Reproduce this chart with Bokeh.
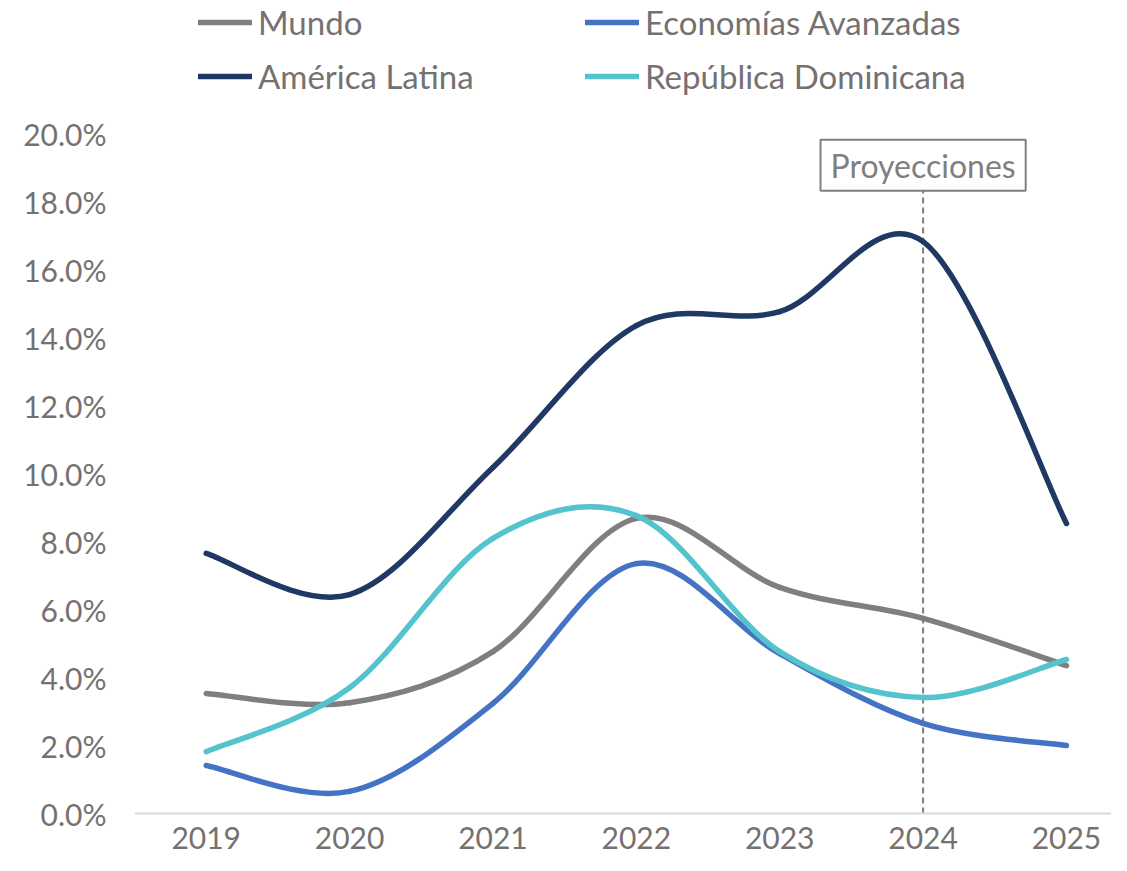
from bokeh.plotting import figure
from bokeh.models import (Range1d, FixedTicker, PrintfTickFormatter, Legend,
                          LegendItem, Label, ColumnDataSource)
from bokeh.embed import file_html
from bokeh.resources import INLINE

# ---------------- data ----------------
years = [2019, 2020, 2021, 2022, 2023, 2024, 2025]
mundo = [3.53, 3.26, 4.76, 8.68, 6.65, 5.74, 4.35]
avanzadas = [1.41, 0.65, 3.24, 7.35, 4.70, 2.65, 2.00]
america_latina = [7.65, 6.44, 10.18, 14.35, 14.76, 16.82, 8.53]
rep_dominicana = [1.82, 3.70, 8.09, 8.76, 4.76, 3.41, 4.53]

series_names = ["Mundo", "Economías Avanzadas", "América Latina", "República Dominicana"]
series_values = [mundo, avanzadas, america_latina, rep_dominicana]
series_colors = ["#7F7F7F", "#4472C4", "#1F3864", "#55C3CD"]

y_ticks = [0, 2, 4, 6, 8, 10, 12, 14, 16, 18, 20]
proj_year = 2024
proj_top = 18.32
proj_text = "Proyecciones"

TEXT = "#767171"
FONT = "Lato"


def smooth_segments(xs, ys, k=1.0 / 6.0):
    """Bezier control points for a smoothed line through the data points."""
    n = len(xs)
    d = dict(x0=[], y0=[], x1=[], y1=[], cx0=[], cy0=[], cx1=[], cy1=[])
    for i in range(n - 1):
        ip = max(i - 1, 0)
        inn = min(i + 2, n - 1)
        d["x0"].append(xs[i]); d["y0"].append(ys[i])
        d["x1"].append(xs[i + 1]); d["y1"].append(ys[i + 1])
        d["cx0"].append(xs[i] + (xs[i + 1] - xs[ip]) * k)
        d["cy0"].append(ys[i] + (ys[i + 1] - ys[ip]) * k)
        d["cx1"].append(xs[i + 1] - (xs[inn] - xs[i]) * k)
        d["cy1"].append(ys[i + 1] - (ys[inn] - ys[i]) * k)
    return d


p = figure(width=1111, height=855, output_backend="svg", toolbar_location=None,
           x_range=Range1d(2018.5, 2025.314), y_range=Range1d(-1.235, 23.912),
           min_border_left=134, min_border_right=0, min_border_top=0,
           min_border_bottom=0)
p.outline_line_color = None
p.xgrid.visible = False
p.ygrid.visible = False
p.background_fill_color = "white"
p.border_fill_color = "white"

# axes
p.xaxis.ticker = FixedTicker(ticks=years)
p.yaxis.ticker = FixedTicker(ticks=y_ticks)
p.yaxis.formatter = PrintfTickFormatter(format="%.1f%%")
for ax in (p.xaxis, p.yaxis):
    ax.major_tick_line_color = None
    ax.minor_tick_line_color = None
    ax.major_tick_out = 0
    ax.major_tick_in = 0
    ax.major_label_text_font = FONT
    ax.major_label_text_font_size = "30px"
    ax.major_label_text_color = TEXT
p.yaxis.axis_line_color = None
p.yaxis.major_label_standoff = 28
p.xaxis.fixed_location = 0
p.xaxis.axis_line_color = "#D9D9D9"
p.xaxis.axis_line_width = 2
p.xaxis.major_label_standoff = 13

# projection marker
p.segment(x0=[proj_year], y0=[0], x1=[proj_year], y1=[proj_top],
          line_color="#7F7F7F", line_width=2, line_dash="6 4")

renderers = []
for name, vals, col in zip(series_names, series_values, series_colors):
    src = ColumnDataSource(smooth_segments(years, vals))
    r = p.bezier(x0="x0", y0="y0", x1="x1", y1="y1", cx0="cx0", cy0="cy0",
                 cx1="cx1", cy1="cy1", source=src, line_color=col,
                 line_width=5.5, line_cap="round")
    renderers.append(r)

lab = Label(x=proj_year, y=proj_top, text=proj_text, text_align="center",
            text_baseline="bottom", y_offset=0,
            padding=dict(left=10, right=10, top=6, bottom=6),
            text_font=FONT, text_font_size="32px", text_color="#7F7F7F",
            border_line_color="#7F7F7F", border_line_width=2,
            background_fill_color="white")
p.add_layout(lab)

# legend: two columns
def make_legend(idx, x):
    items = [LegendItem(label=series_names[i], renderers=[renderers[i]]) for i in idx]
    lg = Legend(items=items, location=(x, 759), orientation="vertical",
                spacing=14, label_height=40, glyph_height=40, glyph_width=54,
                label_standoff=6, padding=0, margin=0,
                border_line_color=None, background_fill_alpha=0,
                label_text_font=FONT, label_text_font_size="33px",
                label_text_color=TEXT)
    return lg

p.add_layout(make_legend([0, 2], 64))
p.add_layout(make_legend([1, 3], 451))

open("out.html", "w").write(file_html(p, INLINE))
